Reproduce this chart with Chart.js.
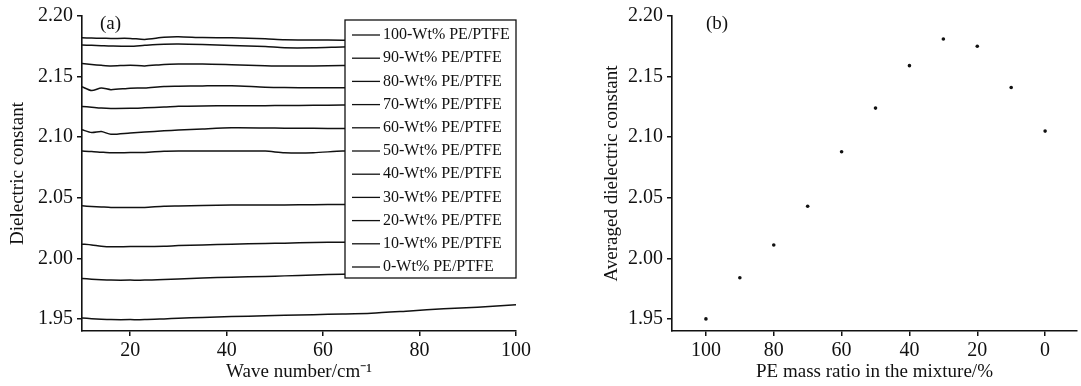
<!DOCTYPE html>
<html>
<head>
<meta charset="utf-8">
<script src="https://cdn.jsdelivr.net/npm/chart.js@4.4.1/dist/chart.umd.min.js"></script>
<style>
  html, body { margin: 0; padding: 0; background: #fff; }
  #wrapA { position: absolute; left: 0; top: 0; width: 560px; height: 386px; }
  #wrapB { position: absolute; left: 590px; top: 0; width: 491px; height: 386px; }
</style>
</head>
<body>
<div id="wrapA"><canvas id="chartA"></canvas></div>
<div id="wrapB"><canvas id="chartB"></canvas></div>
<script>
// panel (a): dielectric constant vs wave number
const waveNumbers = [10, 12, 14, 16, 20, 23, 27, 30, 35, 41, 48, 52, 58, 64, 70, 78, 85, 92, 100];
const seriesLabels = ['100-Wt% PE/PTFE', '90-Wt% PE/PTFE', '80-Wt% PE/PTFE', '70-Wt% PE/PTFE',
  '60-Wt% PE/PTFE', '50-Wt% PE/PTFE', '40-Wt% PE/PTFE', '30-Wt% PE/PTFE', '20-Wt% PE/PTFE',
  '10-Wt% PE/PTFE', '0-Wt% PE/PTFE'];
const s1 = [2.1820, 2.1818, 2.1816, 2.1815, 2.1815, 2.1807, 2.1825, 2.1829, 2.1822, 2.1820, 2.1812, 2.1804, 2.1802, 2.1800, 2.1800, 2.1800, 2.1800, 2.1800, 2.1800];
const s2 = [2.1761, 2.1758, 2.1755, 2.1752, 2.1750, 2.1758, 2.1767, 2.1769, 2.1765, 2.1757, 2.1748, 2.1738, 2.1738, 2.1745, 2.1750, 2.1750, 2.1750, 2.1750, 2.1750];
const s3 = [2.1609, 2.1600, 2.1593, 2.1588, 2.1594, 2.1588, 2.1600, 2.1603, 2.1604, 2.1598, 2.1590, 2.1587, 2.1588, 2.1592, 2.1590, 2.1590, 2.1590, 2.1590, 2.1590];
const s4 = [2.1416, 2.1385, 2.1406, 2.1392, 2.1404, 2.1406, 2.1418, 2.1420, 2.1423, 2.1424, 2.1412, 2.1409, 2.1408, 2.1408, 2.1410, 2.1410, 2.1410, 2.1410, 2.1410];
const s5 = [2.1254, 2.1247, 2.1240, 2.1237, 2.1238, 2.1242, 2.1248, 2.1255, 2.1258, 2.1259, 2.1260, 2.1261, 2.1263, 2.1265, 2.1265, 2.1265, 2.1265, 2.1265, 2.1265];
const s6 = [2.1061, 2.1038, 2.1046, 2.1024, 2.1035, 2.1042, 2.1052, 2.1059, 2.1068, 2.1077, 2.1076, 2.1074, 2.1073, 2.1072, 2.1072, 2.1072, 2.1072, 2.1072, 2.1072];
const s7 = [2.0885, 2.0882, 2.0876, 2.0871, 2.0873, 2.0874, 2.0883, 2.0885, 2.0885, 2.0885, 2.0885, 2.0872, 2.0872, 2.0885, 2.0885, 2.0885, 2.0885, 2.0885, 2.0885];
const s8 = [2.0433, 2.0428, 2.0424, 2.0420, 2.0419, 2.0420, 2.0430, 2.0432, 2.0435, 2.0439, 2.0440, 2.0441, 2.0443, 2.0444, 2.0445, 2.0445, 2.0445, 2.0445, 2.0445];
const s9 = [2.0117, 2.0110, 2.0100, 2.0095, 2.0097, 2.0097, 2.0100, 2.0105, 2.0110, 2.0117, 2.0122, 2.0125, 2.0130, 2.0133, 2.0135, 2.0137, 2.0139, 2.0140, 2.0142];
const s10 = [1.9833, 1.9828, 1.9823, 1.9820, 1.9820, 1.9820, 1.9825, 1.9830, 1.9837, 1.9844, 1.9850, 1.9855, 1.9862, 1.9869, 1.9875, 1.9880, 1.9885, 1.9890, 1.9895];
const s11 = [1.9508, 1.9502, 1.9497, 1.9494, 1.9494, 1.9494, 1.9500, 1.9505, 1.9512, 1.9519, 1.9525, 1.9530, 1.9535, 1.9540, 1.9547, 1.9566, 1.9583, 1.9597, 1.9616];
const allSeries = [s1, s2, s3, s4, s5, s6, s7, s8, s9, s10, s11];

// panel (b): averaged dielectric constant vs PE mass ratio
const massRatio = [100, 90, 80, 70, 60, 50, 40, 30, 20, 10, 0];
const avgConstant = [1.950, 1.984, 2.011, 2.043, 2.088, 2.124, 2.159, 2.181, 2.175, 2.141, 2.105];

// tick labels
const yTicks = [1.95, 2.00, 2.05, 2.10, 2.15, 2.20];
const waveTicks = [20, 40, 60, 80, 100];
const ratioTicks = [100, 80, 60, 40, 20, 0];

const ink = '#111';
const serif = 'Liberation Serif';

// legend with a framed white box, drawn above the lines
const boxLegend = {
  id: 'boxLegend',
  afterDatasetsDraw(chart) {
    const {ctx, chartArea} = chart;
    const w = 171, h = 258, rowH = 23.2;
    const left = chartArea.right - w, top = chartArea.top + 4;
    ctx.save();
    ctx.fillStyle = '#fff';
    ctx.fillRect(left, top, w, h);
    ctx.strokeStyle = ink;
    ctx.lineWidth = 1.3;
    ctx.strokeRect(left, top, w, h);
    ctx.font = '16px "' + serif + '"';
    ctx.textBaseline = 'middle';
    ctx.fillStyle = ink;
    chart.data.datasets.forEach((ds, i) => {
      const y = top + 15 + i * rowH;
      ctx.beginPath();
      ctx.moveTo(left + 7, y);
      ctx.lineTo(left + 35, y);
      ctx.stroke();
      ctx.fillText(ds.label, left + 38, y);
    });
    ctx.restore();
  }
};

// (a) / (b) tags
const panelTag = {
  id: 'panelTag',
  afterDraw(chart, args, opts) {
    const {ctx, chartArea} = chart;
    ctx.save();
    ctx.font = '19px "' + serif + '"';
    ctx.fillStyle = ink;
    ctx.textBaseline = 'middle';
    ctx.fillText(opts.text, chartArea.left + opts.dx, 24);
    ctx.restore();
  }
};

function axisCommon(tickList, fmt) {
  return {
    type: 'linear',
    border: { color: ink, width: 1.6 },
    grid: { display: true, drawOnChartArea: false, color: ink, lineWidth: 1.5, tickLength: 5 },
    ticks: { color: ink, font: { family: serif, size: 20 }, padding: 3, callback: fmt },
    afterBuildTicks: (scale) => { scale.ticks = tickList.map(v => ({value: v})); }
  };
}

const yAxisA = Object.assign(axisCommon(yTicks, v => v.toFixed(2)), {
  min: 1.94, max: 2.20,
  title: { display: true, text: 'Dielectric constant', color: ink, font: { family: serif, size: 19 }, padding: { top: 7, bottom: 0 } },
  afterFit: (scale) => { scale.width = 82; }
});
yAxisA.ticks.padding = 4;

const xAxisA = Object.assign(axisCommon(waveTicks, v => String(v)), {
  min: 10, max: 100,
  title: { display: true, text: 'Wave number/cm\u207B\u00B9', color: ink, font: { family: serif, size: 19 }, padding: { top: 0, bottom: 3 } },
  afterFit: (scale) => { scale.height = 55; }
});

new Chart(document.getElementById('chartA'), {
  type: 'line',
  data: {
    datasets: allSeries.map((vals, i) => ({
      label: seriesLabels[i],
      data: waveNumbers.map((w, j) => ({x: w, y: vals[j]})),
      borderColor: ink,
      borderWidth: 1.5,
      pointRadius: 0,
      tension: 0.25,
      fill: false
    }))
  },
  options: {
    responsive: true,
    maintainAspectRatio: false,
    animation: false,
    layout: { padding: { top: 16, right: 44, left: 0, bottom: 0 } },
    plugins: { legend: { display: false }, tooltip: { enabled: false }, panelTag: { text: '(a)', dx: 18 } },
    scales: { x: xAxisA, y: yAxisA }
  },
  plugins: [boxLegend, panelTag]
});

const yAxisB = Object.assign(axisCommon(yTicks, v => v.toFixed(2)), {
  min: 1.94, max: 2.20,
  title: { display: true, text: 'Averaged dielectric constant', color: ink, font: { family: serif, size: 19 }, padding: { top: 11, bottom: 0 } },
  afterFit: (scale) => { scale.width = 82; }
});
yAxisB.ticks.padding = 4;

const xAxisB = Object.assign(axisCommon(ratioTicks, v => String(v)), {
  min: -9.4, max: 110, reverse: true,
  title: { display: true, text: 'PE mass ratio in the mixture/%', color: ink, font: { family: serif, size: 19 }, padding: { top: 0, bottom: 3 } },
  afterFit: (scale) => { scale.height = 55; }
});

new Chart(document.getElementById('chartB'), {
  type: 'scatter',
  data: {
    datasets: [{
      label: 'Averaged dielectric constant',
      data: massRatio.map((m, i) => ({x: m, y: avgConstant[i]})),
      backgroundColor: ink,
      borderColor: ink,
      pointRadius: 1.8,
      borderWidth: 0
    }]
  },
  options: {
    responsive: true,
    maintainAspectRatio: false,
    animation: false,
    layout: { padding: { top: 16, right: 0, left: 0, bottom: 0 } },
    plugins: { legend: { display: false }, tooltip: { enabled: false }, panelTag: { text: '(b)', dx: 34 } },
    scales: { x: xAxisB, y: yAxisB }
  },
  plugins: [panelTag]
});
</script>
</body>
</html>
